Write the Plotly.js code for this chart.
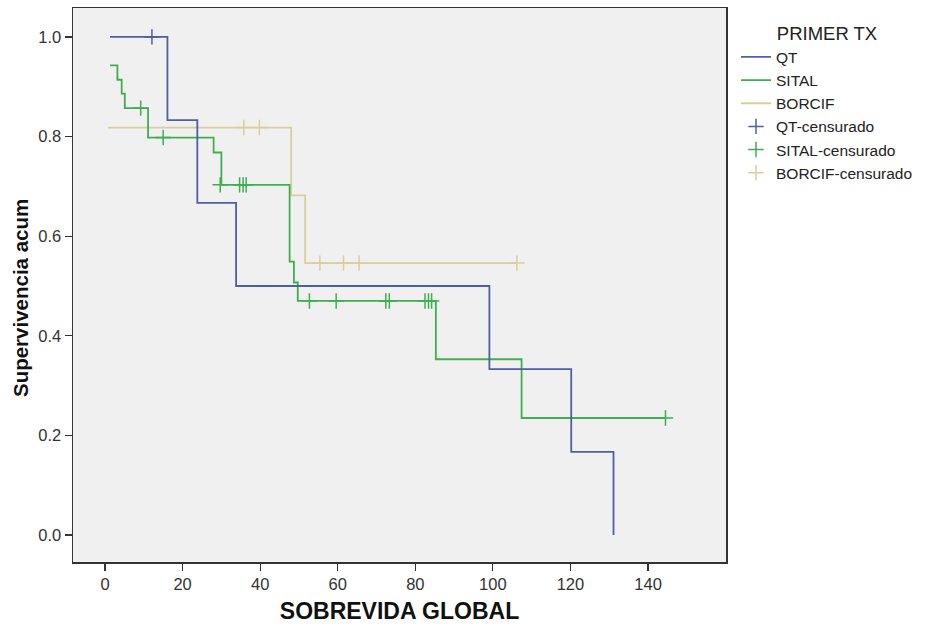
<!DOCTYPE html>
<html>
<head>
<meta charset="utf-8">
<script src="https://cdn.plot.ly/plotly-3.0.1.min.js"></script>
<style>html,body{margin:0;padding:0;background:#fff;}#chart{width:928px;height:626px;}</style>
</head>
<body>
<div id="chart"></div>
<script>
// Kaplan-Meier step points (time, cumulative survival)
const qtTime = [1.3, 16.1, 23.8, 33.8, 99.1, 120.2, 131.1];
const qtSurv = [1.0, 0.833, 0.667, 0.5, 0.333, 0.167, 0.0];
const qtCensTime = [12.1];
const qtCensSurv = [1.0];

const sitalTime = [1.3, 3.2, 4.3, 5.1, 11.1, 28.0, 30.0, 47.6, 48.7, 49.7, 85.3, 107.4, 144.5];
const sitalSurv = [0.943, 0.914, 0.886, 0.857, 0.798, 0.768, 0.703, 0.549, 0.507, 0.470, 0.353, 0.235, 0.235];
const sitalCensTime = [9.2, 15.0, 29.7, 34.7, 35.6, 36.4, 52.7, 59.6, 72.4, 73.3, 82.5, 83.4, 84.2, 144.5];
const sitalCensSurv = [0.857, 0.798, 0.703, 0.703, 0.703, 0.703, 0.470, 0.470, 0.470, 0.470, 0.470, 0.470, 0.470, 0.235];

const borcifTime = [0.8, 48.0, 51.6, 106.2];
const borcifSurv = [0.818, 0.682, 0.546, 0.546];
const borcifCensTime = [35.8, 39.8, 55.4, 61.5, 65.5, 106.2];
const borcifCensSurv = [0.818, 0.818, 0.546, 0.546, 0.546, 0.546];

const seriesNames = ['QT', 'SITAL', 'BORCIF'];
const censNames = ['QT-censurado', 'SITAL-censurado', 'BORCIF-censurado'];
const xTicks = [0, 20, 40, 60, 80, 100, 120, 140];
const yTicks = [0.0, 0.2, 0.4, 0.6, 0.8, 1.0];
const xTitle = 'SOBREVIDA GLOBAL';
const yTitle = 'Supervivencia acum';
const legendTitle = 'PRIMER TX';

const colors = ['#4f5fa3', '#3fae4f', '#d8cf9a'];

function stepTrace(x, y, name, color) {
  return {x: x, y: y, name: name, type: 'scatter', mode: 'lines',
    line: {shape: 'hv', color: color, width: 1.8}};
}
function censTrace(x, y, name, color) {
  return {x: x, y: y, name: name, type: 'scatter', mode: 'markers',
    marker: {symbol: 'cross-thin', size: 11, color: color, line: {color: color, width: 1.5}}};
}

const data = [
  stepTrace(qtTime, qtSurv, seriesNames[0], colors[0]),
  stepTrace(sitalTime, sitalSurv, seriesNames[1], colors[1]),
  stepTrace(borcifTime, borcifSurv, seriesNames[2], colors[2]),
  censTrace(qtCensTime, qtCensSurv, censNames[0], colors[0]),
  censTrace(sitalCensTime, sitalCensSurv, censNames[1], colors[1]),
  censTrace(borcifCensTime, borcifCensSurv, censNames[2], colors[2])
];
data.forEach((t, i) => { t.legendrank = i + 1; });
// draw lighter series beneath
const order = [data[2], data[5], data[1], data[0], data[4], data[3]];

const FONT = 'Liberation Sans, Arial, sans-serif';
const layout = {
  width: 928, height: 626,
  margin: {l: 73, r: 202, t: 8, b: 64},
  paper_bgcolor: '#ffffff',
  plot_bgcolor: '#f0f0f0',
  font: {family: FONT, color: '#333333', size: 15},
  showlegend: true,
  legend: {
    x: 1.0153, xanchor: 'left', y: 0.985, yanchor: 'top',
    bgcolor: 'rgba(0,0,0,0)',
    font: {size: 15.5, color: '#222'},
    title: {text: legendTitle, side: 'top center', font: {size: 18.5, color: '#222'}},
    traceorder: 'normal',
    itemwidth: 30
  },
  xaxis: {
    range: [-8.25, 160.1],
    tickvals: xTicks, ticktext: xTicks.map(String),
    ticks: 'outside', ticklen: 7, tickwidth: 1.2, tickcolor: '#333',
    showgrid: false, zeroline: false,
    showline: true, linecolor: '#333', linewidth: 1.5, mirror: true,
    tickfont: {size: 16.5, color: '#333'},
    title: {text: xTitle, font: {size: 23, color: '#111', family: FONT, weight: 'bold'}, standoff: 10}
  },
  yaxis: {
    range: [-0.054, 1.058],
    tickvals: yTicks, ticktext: yTicks.map(v => v.toFixed(1)),
    ticks: 'outside', ticklen: 7, tickwidth: 1.2, tickcolor: '#333',
    showgrid: false, zeroline: false,
    showline: true, linecolor: '#333', linewidth: 1.5, mirror: true,
    tickfont: {size: 16.5, color: '#333'}
  },
  annotations: [{
    text: yTitle, xref: 'paper', yref: 'paper', x: -0.0812, y: 0.4765,
    xanchor: 'center', yanchor: 'middle', textangle: -90, showarrow: false,
    font: {size: 20.5, color: '#111', family: FONT, weight: 'bold'}
  }]
};

Plotly.newPlot('chart', order, layout, {displayModeBar: false, staticPlot: true});
</script>
</body>
</html>
